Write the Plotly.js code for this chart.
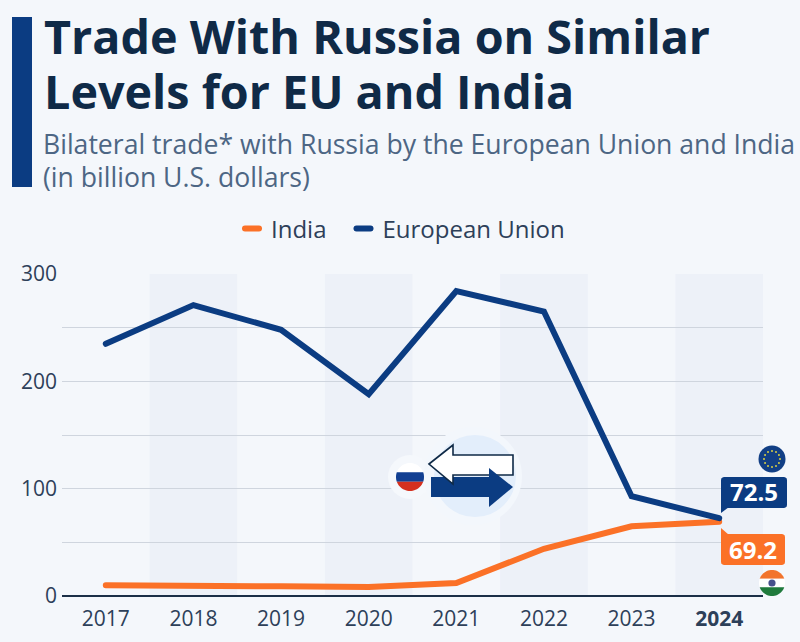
<!DOCTYPE html>
<html><head><meta charset="utf-8">
<script src="https://cdn.plot.ly/plotly-3.0.1.min.js"></script>
<style>html,body{margin:0;padding:0;background:#f4f7fb}
.legendlines path{stroke-dasharray:14 100 !important;stroke-dashoffset:-20px !important;stroke-linecap:round !important}
.scatterlayer .js-line{stroke-linecap:round !important}
</style></head>
<body><div id="chart" style="width:800px;height:642px"></div>
<script>
const years = [2017, 2018, 2019, 2020, 2021, 2022, 2023, 2024];
const yearLabels = ['2017', '2018', '2019', '2020', '2021', '2022', '2023', '<b>2024</b>'];
const india = [10, 9, 9, 8.5, 12, 44, 65, 69.2];
const eu = [235, 271, 248, 188, 284, 265, 93, 72.5];
const yTicks = [0, 100, 200, 300];
const yLabels = ['0', '100', '200', '300'];
const yMinor = [50, 150, 250];
const bandYears = [2018, 2020, 2022, 2024];

const W = 800, H = 642, L = 62, R = 763, T = 274, B = 596;
const FONT = '"Open Sans", sans-serif';
const NAVY = '#0b3c82', ORANGE = '#fb7127', INK = '#0f2a47', SUB = '#4d6684', AXT = '#2d4059';
const px = x => (x - L) / (R - L);
const py = y => (B - y) / (B - T);
const poly = pts => 'M' + pts.map(p => px(p[0]) + ',' + py(p[1])).join('L') + 'Z';
const shp = (pts, fill, line, lw) => ({type: 'path', xref: 'paper', yref: 'paper', path: poly(pts),
  fillcolor: fill, line: {color: line || fill, width: lw === undefined ? 0 : lw}});
const circ = (cx, cy, r, fill) => ({type: 'circle', xref: 'paper', yref: 'paper',
  x0: px(cx - r), x1: px(cx + r), y0: py(cy + r), y1: py(cy - r), fillcolor: fill, line: {width: 0}});
function rrect(x0, y0, x1, y1, r) {
  const pts = [];
  [[x1 - r, y0 + r, -90], [x1 - r, y1 - r, 0], [x0 + r, y1 - r, 90], [x0 + r, y0 + r, 180]].forEach(c => {
    for (let a = 0; a <= 90; a += 30) {
      const t = (c[2] + a) * Math.PI / 180;
      pts.push([c[0] + r * Math.cos(t), c[1] + r * Math.sin(t)]);
    }
  });
  return pts;
}
// circular band between horizontal offsets from the centre
function band(cx, cy, r, d0, d1) {
  const pts = [];
  const a0 = Math.asin(d0 / r), a1 = Math.asin(d1 / r);
  for (let i = 0; i <= 12; i++) { const a = a0 + (a1 - a0) * i / 12; pts.push([cx + r * Math.cos(a), cy + r * Math.sin(a)]); }
  for (let i = 12; i >= 0; i--) { const a = a0 + (a1 - a0) * i / 12; pts.push([cx - r * Math.cos(a), cy + r * Math.sin(a)]); }
  return pts;
}

const shapes = [];
bandYears.forEach(y => shapes.push({type: 'rect', xref: 'x', yref: 'paper', layer: 'below',
  x0: y - 0.5, x1: y + 0.5, y0: 0, y1: 1, fillcolor: '#edf1f8', line: {width: 0}}));
// accent bar
shapes.push(shp([[12, 17], [32, 17], [32, 187], [12, 187]], NAVY));
// centre icon
shapes.push(circ(410, 477, 22, '#f5f8fc'));
shapes.push(circ(473, 476, 49, '#f3f7fc'));
shapes.push(circ(475, 476, 41, '#e3eefb'));
shapes.push(shp(band(410, 477, 14, -14, -4.7), '#ffffff'));
shapes.push(shp(band(410, 477, 14, -4.7, 4.7), '#123f92'));
shapes.push(shp(band(410, 477, 14, 4.7, 14), '#d5301f'));
shapes.push(shp([[431, 477], [489, 477], [489, 497], [431, 497]], NAVY));
shapes.push(shp([[429, 464], [453, 445], [453, 455], [513, 455], [513, 475], [453, 475], [453, 484]], '#ffffff', '#0f2a47', 1.6));
shapes.push(shp([[489, 477], [489, 468], [513, 487], [489, 507], [489, 497]], NAVY));
// EU flag
shapes.push(circ(772, 459, 13.5, '#123f85'));
for (let i = 0; i < 12; i++) {
  const t = i * Math.PI / 6;
  shapes.push(circ(772 + 8 * Math.cos(t), 459 + 8 * Math.sin(t), 1, '#d9cf45'));
}
// India flag
shapes.push(shp(band(772, 583, 13, -13, -4.3), '#f2742c'));
shapes.push(shp(band(772, 583, 13, -4.3, 4.3), '#ffffff'));
shapes.push(shp(band(772, 583, 13, 4.3, 13), '#1f7a3c'));
shapes.push(circ(772, 583, 3.6, '#46508c'));
// callouts
shapes.push(shp(rrect(721, 477, 787, 508, 3), NAVY));
shapes.push(shp([[721, 505], [721, 513], [729, 507]], NAVY));
shapes.push(shp(rrect(721, 534, 785, 565, 3), ORANGE));
shapes.push(shp([[721, 528], [721, 538], [729, 535]], ORANGE));

const txt = (x, y, text, size, color, anchor, extra) => Object.assign({
  xref: 'paper', yref: 'paper', x: px(x), y: py(y), xanchor: anchor || 'left', yanchor: 'middle',
  text, showarrow: false, align: 'left', font: {family: FONT, size, color}
}, extra || {});

const annotations = [
  txt(42, 36, '<b>Trade With Russia on Similar</b>', 46.7, INK),
  txt(42, 91, '<b>Levels for EU and India</b>', 46.7, INK),
  txt(41, 144, 'Bilateral trade* with Russia by the European Union and India', 26.6, SUB),
  txt(41, 177, '(in billion U.S. dollars)', 26.6, SUB),
  txt(754, 491, '<b>72.5</b>', 24, '#ffffff', 'center'),
  txt(753, 549, '<b>69.2</b>', 24, '#ffffff', 'center')
];

const traces = [
  {name: 'India', x: years, y: india, mode: 'lines', line: {color: ORANGE, width: 6}, cliponaxis: false, hoverinfo: 'x+y+name'},
  {name: 'European Union', x: years, y: eu, mode: 'lines', line: {color: NAVY, width: 6}, cliponaxis: false, hoverinfo: 'x+y+name'}
];

const layout = {
  width: W, height: H, autosize: false,
  margin: {l: L, r: W - R, t: T, b: H - B, pad: 0},
  paper_bgcolor: '#f4f7fb', plot_bgcolor: 'rgba(0,0,0,0)',
  font: {family: FONT, color: AXT},
  showlegend: true,
  legend: {orientation: 'h', x: 220 / W, xref: 'container', xanchor: 'left', y: 1 - 229 / H, yref: 'container', yanchor: 'middle',
    font: {family: FONT, size: 24, color: AXT}, itemwidth: 41, bgcolor: 'rgba(0,0,0,0)', traceorder: 'normal'},
  xaxis: {type: 'linear', range: [2016.5, 2024.5], tickmode: 'array', tickvals: years, ticktext: yearLabels,
    showgrid: false, zeroline: false, showline: false, ticks: '', tickfont: {family: FONT, size: 21, color: AXT}, ticklabelstandoff: 8, automargin: false},
  yaxis: {range: [0, 300], tickmode: 'array', tickvals: yTicks, ticktext: yLabels, showgrid: true, gridcolor: '#cfd5de', gridwidth: 1.3,
    minor: {tickmode: 'array', tickvals: yMinor, showgrid: true, gridcolor: '#cfd5de', gridwidth: 1.3, ticks: ''},
    zeroline: true, zerolinecolor: '#1b2f47', zerolinewidth: 2, showline: false, ticks: '', tickfont: {family: FONT, size: 21, color: AXT}, ticklabelstandoff: 4, automargin: false},
  shapes, annotations
};
Plotly.newPlot('chart', traces, layout, {displayModeBar: false, responsive: false});
</script></body></html>
